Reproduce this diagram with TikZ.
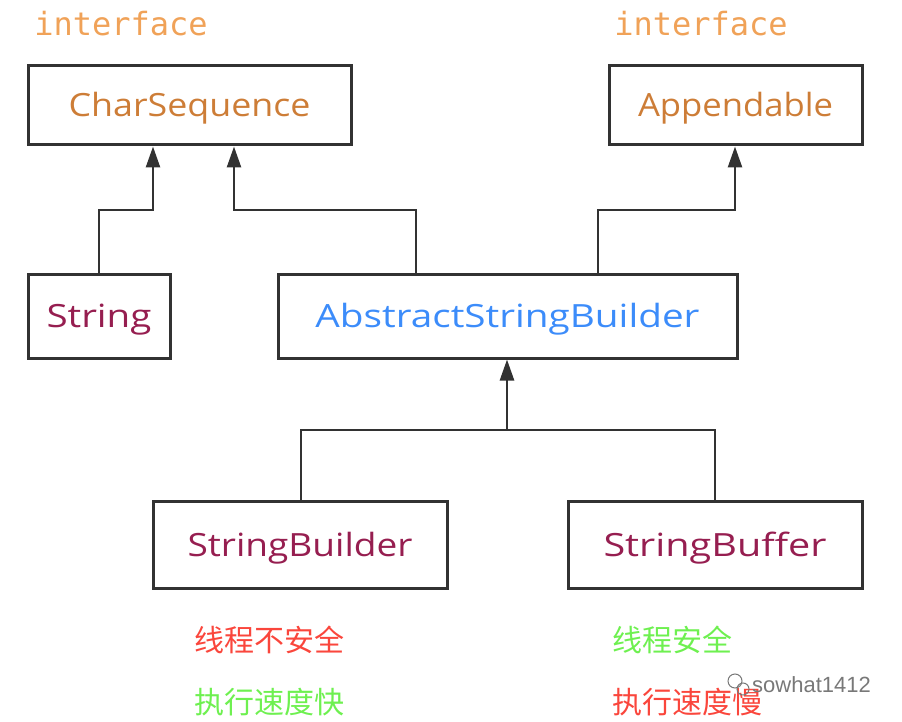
\documentclass[tikz,border=0pt]{standalone}
\usepackage{fontspec}
\setmainfont{Open Sans}
\newfontfamily\monof{DejaVu Sans Mono}
\newfontfamily\cjk{Noto Sans CJK SC}
\newfontfamily\wmf{Liberation Sans}
\usetikzlibrary{arrows.meta}
\newcommand{\fitw}[2]{\resizebox{#1}{\height}{#2}}
\definecolor{ifc}{RGB}{240,162,88}
\definecolor{itext}{RGB}{205,125,55}
\definecolor{ctext}{RGB}{150,30,80}
\definecolor{btext}{RGB}{60,140,250}
\definecolor{rtext}{RGB}{250,70,60}
\definecolor{gtext}{RGB}{110,240,80}
\definecolor{lc}{RGB}{50,50,50}
\definecolor{wm}{RGB}{120,120,120}
\tikzset{
  box/.style={draw=lc, line width=3pt, inner sep=0pt, text height=23pt, text depth=0pt, font=\fontsize{32}{34}\selectfont},
  conn/.style={draw=lc, line width=2.6pt},
  arr/.style={conn, -{Triangle[width=14pt,length=21pt]}},
  iflabel/.style={text=ifc, inner sep=0pt, font=\monof\fontsize{32}{34}\selectfont},
  cn/.style={inner sep=0pt, anchor=west, font=\cjk\fontsize{30}{32}\selectfont}
}
\begin{document}
\begin{tikzpicture}[x=1pt,y=-1pt]
\useasboundingbox (0,0) rectangle (902,722);
% labels
\node[iflabel] (if1) at (121,24) {interface};
\node[iflabel] (if2) at (701,24) {interface};
% boxes
\node[box, minimum width=323pt, minimum height=79pt, text=itext] (cs) at (189.5,105.5) {\fitw{242pt}{CharSequence}};
\node[box, minimum width=253pt, minimum height=79pt, text=itext] (app) at (735.5,105.5) {\fitw{195pt}{Appendable}};
\node[box, minimum width=142pt, minimum height=84pt, text=ctext] (str) at (99,316) {\fitw{105pt}{String}};
\node[box, minimum width=459pt, minimum height=84pt, text=btext] (asb) at (507.5,316) {\fitw{384pt}{AbstractStringBuilder}};
\node[box, minimum width=294pt, minimum height=87pt, text=ctext] (sbd) at (300,544.5) {\fitw{225pt}{StringBuilder}};
\node[box, minimum width=294pt, minimum height=87pt, text=ctext] (sbf) at (715,544.5) {\fitw{223pt}{StringBuffer}};
% junction coordinates
\coordinate (j1) at (153,210);
\coordinate (a1) at (416,210);
\coordinate (a2) at (234,210);
\coordinate (b1) at (598,210);
\coordinate (b2) at (735,210);
\coordinate (c1) at (301,430);
\coordinate (c2) at (715,430);
\coordinate (c3) at (507,430);
% connectors
\draw[arr] (str.north) |- (j1) -- (j1 |- cs.south);
\draw[arr] (a1 |- asb.north) -- (a1) -- (a2) -- (a2 |- cs.south);
\draw[arr] (b1 |- asb.north) -- (b1) -- (b2) -- (b2 |- app.south);
\draw[conn] (c1 |- sbd.north) -- (c1) -- (c2) -- (c2 |- sbf.north);
\draw[arr] (c3) -- (c3 |- asb.south);
% notes
\node[cn, text=rtext] (n1) at (194,640) {线程不安全};
\node[cn, text=gtext] (n2) at (194,702) {执行速度快};
\node[cn, text=gtext] (n3) at (612,640) {线程安全};
\node[cn, text=rtext] (n4) at (612,702) {执行速度慢};
% watermark
\draw[wm, line width=1pt] (735,681) circle (7pt);
\draw[wm, line width=1pt] (743,689) circle (6pt);
\node[inner sep=0pt, anchor=west, text=wm, font=\wmf\fontsize{22}{24}\selectfont] (wmk) at (752,685) {sowhat1412};
\end{tikzpicture}
\end{document}
